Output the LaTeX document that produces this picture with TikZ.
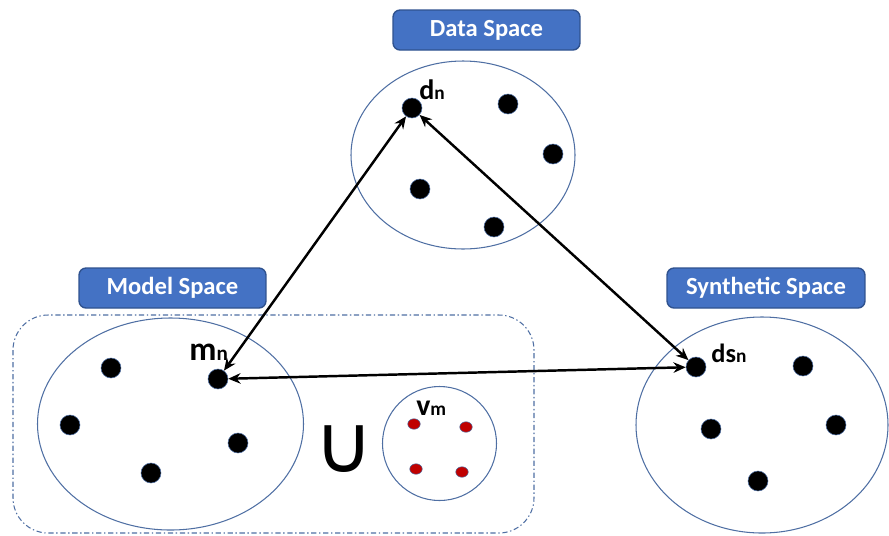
\documentclass[tikz,border=0pt]{standalone}
\usepackage{fontspec}
\setmainfont{Carlito}
\newfontfamily\symfont{DejaVu Sans}
\usepackage{tikz}
\usetikzlibrary{arrows.meta, positioning, shapes.geometric}
\definecolor{BoxBlue}{HTML}{4472C4}
\definecolor{BoxEdge}{HTML}{2F528F}
\definecolor{RingBlue}{HTML}{4F6FA3}
\definecolor{DotRed}{HTML}{C00000}

\begin{document}
\begin{tikzpicture}[x=0.02cm, y=-0.02cm,
    spacebox/.style={draw=BoxEdge, fill=BoxBlue, rounded corners=4pt, line width=0.8pt,
        text=white, font=\bfseries\fontsize{14}{16}\selectfont,
        minimum width=3.74cm, minimum height=0.8cm, inner sep=0pt},
    ring/.style={draw=RingBlue, line width=0.6pt},
    dot/.style={circle, fill=black, draw=RingBlue, line width=0.3pt, minimum size=0.4cm, inner sep=0pt},
    reddot/.style={ellipse, fill=DotRed, draw=RingBlue, line width=0.3pt,
        minimum width=0.25cm, minimum height=0.21cm, inner sep=0pt},
    link/.style={{Stealth[length=7pt,width=6pt]}-{Stealth[length=7pt,width=6pt]}, line width=1.4pt}]
    \useasboundingbox (0,0) rectangle (889,535);

    % Space titles
    \node[spacebox] (datatitle) at (486.5,30) {Data Space};
    \node[spacebox] (modeltitle) at (172.5,288) {Model Space};
    \node[spacebox, minimum width=3.96cm] (synthtitle) at (766,288) {Synthetic Space};

    % Model space plus extra set (dash-dot frame)
    \draw[RingBlue, line width=0.6pt, rounded corners=20pt,
        dash pattern=on 3pt off 1.5pt on 0.8pt off 1.5pt] (13,315) rectangle (534,533);

    % Ellipses
    \draw[ring] (463,155) ellipse [x radius=112, y radius=94];
    \draw[ring] (170.5,424) ellipse [x radius=133, y radius=106];
    \draw[ring] (762,425) ellipse [x radius=126, y radius=108];
    \draw[ring] (439.5,443.5) circle [radius=57];

    % Data space points
    \node[dot] (dn) at (412,108) {};
    \node[dot] (d2) at (508,104) {};
    \node[dot] (d3) at (553,154) {};
    \node[dot] (d4) at (420,189) {};
    \node[dot] (d5) at (494,227) {};
    \node[anchor=base west, inner sep=0pt, font=\bfseries] (dnlabel) at (419,99)
        {{\fontsize{16}{16}\selectfont d}{\fontsize{11}{11}\selectfont n}};

    % Model space points
    \node[dot] (mn) at (218,379) {};
    \node[dot] (m2) at (111,368) {};
    \node[dot] (m3) at (70,425) {};
    \node[dot] (m4) at (238,443) {};
    \node[dot] (m5) at (151,473) {};
    \node[anchor=base west, inner sep=0pt, font=\bfseries] (mnlabel) at (189,360)
        {{\fontsize{19}{19}\selectfont m}{\fontsize{12}{12}\selectfont n}};

    % Union with the v set
    \node[inner sep=0pt, font=\symfont\fontsize{46}{46}\selectfont] (union) at (344,449) {∪};
    \node[reddot] (v1) at (414,424) {};
    \node[reddot] (v2) at (466,427) {};
    \node[reddot] (v3) at (416,469) {};
    \node[reddot] (v4) at (462,472) {};
    \node[anchor=base west, inner sep=0pt, font=\bfseries] (vmlabel) at (416,415)
        {{\fontsize{17}{17}\selectfont v}{\fontsize{11}{11}\selectfont m}};

    % Synthetic space points
    \node[dot] (dsn) at (696,367) {};
    \node[dot] (s2) at (803,366) {};
    \node[dot] (s3) at (711,429) {};
    \node[dot] (s4) at (836,425) {};
    \node[dot] (s5) at (758,481) {};
    \node[anchor=base west, inner sep=0pt, font=\bfseries] (dsnlabel) at (711,362)
        {{\fontsize{15}{15}\selectfont ds}{\fontsize{11}{11}\selectfont n}};

    % Links between spaces
    \draw[link] (mn) -- (dn);
    \draw[link] (dn) -- (dsn);
    \draw[link] (mn) -- (dsn);
\end{tikzpicture}
\end{document}
